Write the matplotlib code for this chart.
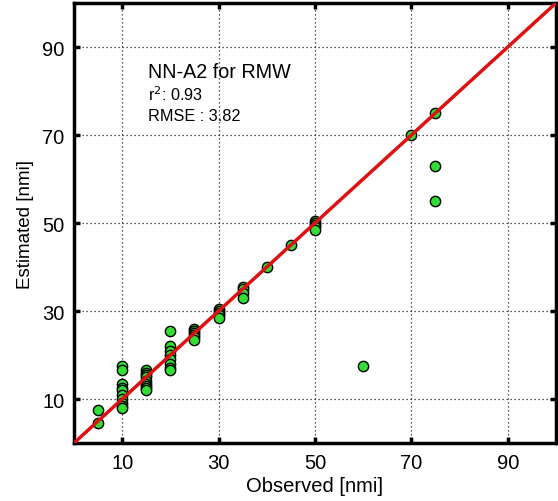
import matplotlib
matplotlib.use("Agg")
import matplotlib.pyplot as plt
import numpy as np

plt.rcParams['font.family'] = ['Liberation Sans', 'DejaVu Sans']

# observed / estimated RMW pairs
obs = [5, 5,
       10, 10, 10, 10, 10, 10, 10, 10, 10, 10,
       15, 15, 15, 15, 15, 15, 15, 15, 15,
       20, 20, 20, 20, 20, 20, 20, 20,
       25, 25, 25, 25, 25, 25,
       30, 30, 30, 30, 30,
       35, 35, 35, 35,
       40, 45,
       50, 50, 50, 50, 50,
       60, 70, 75, 75, 75]
est = [7.5, 4.5,
       17.5, 16.5, 13.5, 12.5, 12, 11, 10, 9, 8.5, 8,
       16.5, 16, 15.5, 15, 14, 13.5, 13, 12.5, 12,
       25.5, 22, 21, 20, 19, 18, 17, 16.5,
       26, 25.5, 25, 24.5, 24, 23.5,
       30.5, 30, 29.5, 29, 28.5,
       35.5, 35, 34, 33,
       40, 45,
       50.5, 50, 49.5, 49, 48.5,
       17.5, 70, 75, 63, 55]
ticks = [10, 30, 50, 70, 90]
r2 = 0.93
rmse = 3.82

fig = plt.figure(figsize=(5.58, 5.02), dpi=100)
ax = fig.add_axes([0.1326, 0.1155, 0.8638, 0.8765])

ax.scatter(obs, est, s=55, c='#33dd33', edgecolors='black', linewidths=1.0, zorder=3)
ax.plot([0, 100], [0, 100], color='#dd1111', lw=2.5, zorder=4)

ax.set_xlim(0, 100)
ax.set_ylim(0, 100)
ax.set_xticks(ticks)
ax.set_yticks(ticks)
ax.grid(True, linestyle=(0, (1, 2.2)), color='#222222', lw=0.9)
ax.tick_params(direction='in', length=4, width=2.5, labelsize=14.5, top=True, right=True, pad=7)
for s in ax.spines.values():
    s.set_linewidth(2.5)

ax.set_xlabel('Observed [nmi]', fontsize=14.5, labelpad=3)
ax.set_ylabel('Estimated [nmi]', fontsize=13.5, labelpad=6)

ax.text(15.4, 83.2, 'NN-A2 for RMW', fontsize=14.2)
ax.text(15.4, 78.0, r'r$^2$: %.2f' % r2, fontsize=11.7)
ax.text(15.4, 73.4, 'RMSE : %.2f' % rmse, fontsize=11.7)

fig.savefig('out.png', dpi=100)
